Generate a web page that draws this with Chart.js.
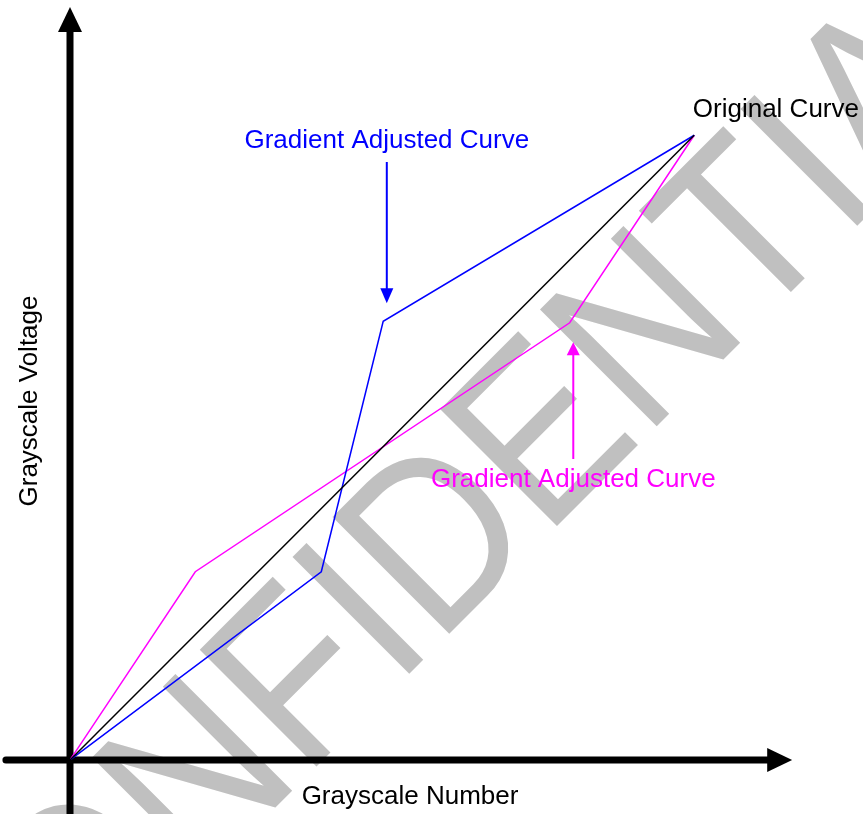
<!DOCTYPE html>
<html>
<head>
<meta charset="utf-8">
<script src="https://cdn.jsdelivr.net/npm/chart.js@4.4.1/dist/chart.umd.min.js"></script>
<style>
  html, body { margin: 0; padding: 0; background: #fff; }
  #wrap { width: 863px; height: 814px; }
</style>
</head>
<body>
<div id="wrap"><canvas id="curveChart"></canvas></div>
<script>
// curve points (x = grayscale number, y = grayscale voltage, both 0..100)
const originalX = [0, 86.7];
const originalY = [0, 83.3];
const blueX = [0, 34.9, 43.5, 86.7];
const blueY = [0, 25.1, 58.5, 83.3];
const magentaX = [0, 17.4, 69.4, 86.7];
const magentaY = [0, 25.1, 58.3, 83.3];

const xTitle = "Grayscale Number";
const yTitle = "Grayscale Voltage";
const labelOriginal = "Original Curve";
const labelBlue = "Gradient Adjusted Curve";
const labelMagenta = "Gradient Adjusted Curve";
const watermark = "CONFIDENTIAL";

function pts(xs, ys) {
  return xs.map((x, i) => ({ x: x, y: ys[i] }));
}

const FONT = '"Liberation Sans", Arial, sans-serif';

function arrowHead(ctx, x, y, dir, len, half) {
  // dir: 'up', 'down', 'right'
  ctx.beginPath();
  if (dir === "up") {
    ctx.moveTo(x, y); ctx.lineTo(x - half, y + len); ctx.lineTo(x + half, y + len);
  } else if (dir === "down") {
    ctx.moveTo(x, y); ctx.lineTo(x - half, y - len); ctx.lineTo(x + half, y - len);
  } else {
    ctx.moveTo(x, y); ctx.lineTo(x - len, y - half); ctx.lineTo(x - len, y + half);
  }
  ctx.closePath();
  ctx.fill();
}

const backdrop = {
  id: "backdrop",
  beforeDatasetsDraw(chart) {
    const ctx = chart.ctx;
    const xs = chart.scales.x, ys = chart.scales.y;
    ctx.save();
    // watermark, slightly condensed along its baseline
    ctx.fillStyle = "#c0c0c0";
    ctx.font = "240px " + FONT;
    ctx.textAlign = "center";
    ctx.textBaseline = "alphabetic";
    ctx.translate(520, 563);
    ctx.rotate(-Math.PI / 4);
    ctx.scale(0.88, 1);
    ctx.fillText(watermark, 0, 0);
    ctx.restore();

    // axes
    ctx.save();
    const x0 = xs.getPixelForValue(0), y0 = ys.getPixelForValue(0);
    const xEnd = xs.getPixelForValue(100.3), yEnd = ys.getPixelForValue(100.4);
    ctx.strokeStyle = "#000";
    ctx.fillStyle = "#000";
    ctx.lineWidth = 7;
    ctx.lineCap = "round";
    ctx.beginPath();
    ctx.moveTo(xs.getPixelForValue(-8.9), y0);
    ctx.lineTo(xEnd - 20, y0);
    ctx.stroke();
    ctx.lineCap = "butt";
    ctx.beginPath();
    ctx.moveTo(x0, ys.getPixelForValue(-8));
    ctx.lineTo(x0, yEnd + 20);
    ctx.stroke();
    arrowHead(ctx, xEnd, y0, "right", 25, 12);
    arrowHead(ctx, x0, yEnd, "up", 25, 12);
    ctx.restore();
  },
  afterDatasetsDraw(chart) {
    const ctx = chart.ctx;
    const xs = chart.scales.x, ys = chart.scales.y;
    ctx.save();
    ctx.font = "26px " + FONT;
    ctx.textBaseline = "alphabetic";

    // axis titles
    ctx.fillStyle = "#000";
    ctx.textAlign = "center";
    ctx.fillText(xTitle, 410, 804);
    ctx.save();
    ctx.translate(37, 401);
    ctx.rotate(-Math.PI / 2);
    ctx.fillText(yTitle, 0, 0);
    ctx.restore();

    // original curve label
    ctx.textAlign = "left";
    ctx.fillText(labelOriginal, xs.getPixelForValue(86.5), 117);

    // blue label + arrow
    const bx = xs.getPixelForValue(44.0);
    ctx.fillStyle = "#0000ff";
    ctx.strokeStyle = "#0000ff";
    ctx.textAlign = "center";
    ctx.fillText(labelBlue, bx, 148);
    ctx.lineWidth = 2;
    ctx.beginPath();
    ctx.moveTo(bx, 162);
    ctx.lineTo(bx, 290);
    ctx.stroke();
    arrowHead(ctx, bx, ys.getPixelForValue(60.9), "down", 15, 6.5);

    // magenta label + arrow
    const mx = xs.getPixelForValue(69.9);
    ctx.fillStyle = "#ff00ff";
    ctx.strokeStyle = "#ff00ff";
    ctx.fillText(labelMagenta, mx, 487);
    ctx.beginPath();
    ctx.moveTo(mx, 459);
    ctx.lineTo(mx, 354);
    ctx.stroke();
    arrowHead(ctx, mx, ys.getPixelForValue(55.7), "up", 13, 6.5);
    ctx.restore();
  }
};

new Chart(document.getElementById("curveChart"), {
  type: "line",
  data: {
    datasets: [
      { label: "Original", data: pts(originalX, originalY), borderColor: "#000000", borderWidth: 1.5 },
      { label: "Blue", data: pts(blueX, blueY), borderColor: "#0000ff", borderWidth: 1.5 },
      { label: "Magenta", data: pts(magentaX, magentaY), borderColor: "#ff00ff", borderWidth: 1.5 }
    ]
  },
  options: {
    responsive: true,
    maintainAspectRatio: false,
    animation: false,
    layout: { padding: { left: 70, right: 73, top: 10, bottom: 54 } },
    elements: { point: { radius: 0 }, line: { tension: 0 } },
    plugins: { legend: { display: false }, tooltip: { enabled: false } },
    scales: {
      x: { type: "linear", min: 0, max: 100, display: false },
      y: { type: "linear", min: 0, max: 100, display: false }
    }
  },
  plugins: [backdrop]
});
</script>
</body>
</html>
